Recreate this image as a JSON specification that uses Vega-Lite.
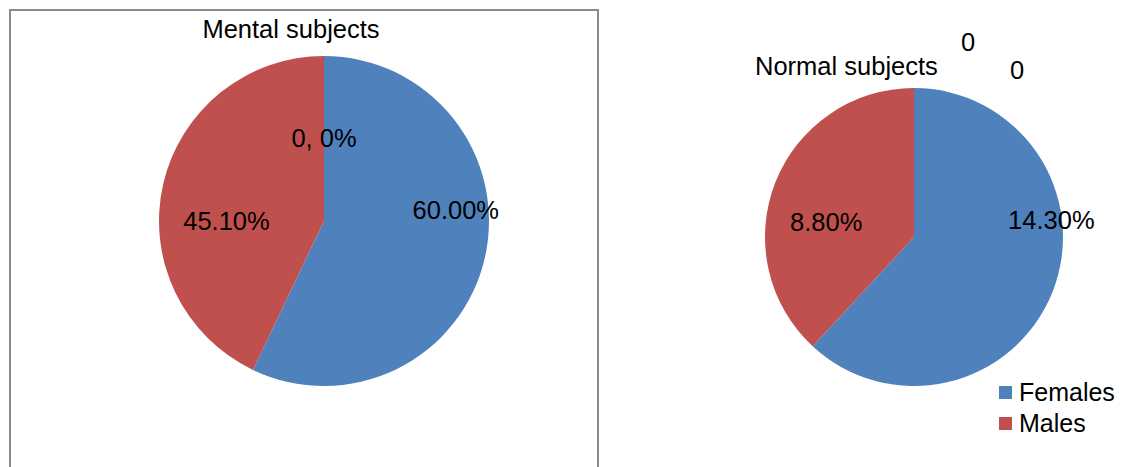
{
  "$schema": "https://vega.github.io/schema/vega-lite/v6.json",
  "padding": {"left": 9, "top": 9, "right": 0, "bottom": 0},
  "background": "white",
  "config": {
    "font": "Liberation Sans",
    "title": {"font": "Liberation Sans", "fontSize": 25.5, "fontWeight": "normal", "color": "#000000"},
    "text": {"font": "Liberation Sans", "fontSize": 25.5, "color": "#000000"}
  },
  "datasets": {
    "mental": [
      {"cat": "Zero", "value": 0, "label": "0, 0%", "idx": 0},
      {"cat": "Females", "value": 60, "label": "60.00%", "idx": 1},
      {"cat": "Males", "value": 45.1, "label": "45.10%", "idx": 2}
    ],
    "normal": [
      {"cat": "Females", "value": 14.3, "label": "14.30%", "idx": 1},
      {"cat": "Males", "value": 8.8, "label": "8.80%", "idx": 2},
      {"cat": "Zero1", "value": 0, "label": "0", "idx": 3},
      {"cat": "Zero2", "value": 0, "label": "0", "idx": 4}
    ]
  },
  "spacing": 100,
  "resolve": {"scale": {"theta": "independent", "color": "independent"}, "legend": {"color": "independent"}},
  "hconcat": [
    {
      "width": 588,
      "height": 470,
      "view": {"stroke": "#8a8a8a", "strokeWidth": 2},
      "title": {"text": "Mental subjects", "offset": -33, "anchor": "middle", "dx": -13},
      "data": {"name": "mental"},
      "encoding": {
        "theta": {"field": "value", "type": "quantitative", "stack": true},
        "order": {"field": "idx", "type": "quantitative"}
      },
      "layer": [
        {
          "mark": {"type": "arc", "outerRadius": 165, "xOffset": 20, "yOffset": -24},
          "encoding": {
            "color": {"field": "cat", "type": "nominal", "scale": {"domain": ["Females", "Males"], "range": ["#4F81BD", "#C0504D"]}, "legend": null}
          }
        },
        {
          "mark": {"type": "text", "radius": 82, "xOffset": 20, "yOffset": -24},
          "encoding": {"text": {"condition": {"test": "datum.cat === 'Zero'", "field": "label"}, "value": ""}}
        },
        {
          "mark": {"type": "text", "radius": 130, "xOffset": 20, "yOffset": -24, "dx": 5, "dy": -39},
          "encoding": {"text": {"condition": {"test": "datum.cat === 'Females'", "field": "label"}, "value": ""}}
        },
        {
          "mark": {"type": "text", "radius": 100, "xOffset": 20, "yOffset": -24, "dx": 0, "dy": 23},
          "encoding": {"text": {"condition": {"test": "datum.cat === 'Males'", "field": "label"}, "value": ""}}
        }
      ]
    },
    {
      "width": 430,
      "height": 454,
      "view": {"stroke": null},
      "title": {"text": "Normal subjects", "offset": -70, "anchor": "start", "dx": 56},
      "data": {"name": "normal"},
      "encoding": {
        "theta": {"field": "value", "type": "quantitative", "stack": true},
        "order": {"field": "idx", "type": "quantitative"}
      },
      "layer": [
        {
          "mark": {"type": "arc", "outerRadius": 149},
          "encoding": {
            "color": {
              "field": "cat", "type": "nominal",
              "scale": {"domain": ["Females", "Males"], "range": ["#4F81BD", "#C0504D"]},
              "legend": {"orient": "none", "legendX": 294, "legendY": 370, "title": null, "symbolType": "square", "symbolSize": 169, "symbolStrokeWidth": 0, "labelFontSize": 25, "labelFont": "Liberation Sans", "labelColor": "#000000", "rowPadding": 5, "labelOffset": 1}
            }
          }
        },
        {
          "mark": {"type": "text", "radius": 140, "dx": 7, "dy": -67},
          "encoding": {"text": {"condition": {"test": "datum.cat === 'Females'", "field": "label"}, "value": ""}}
        },
        {
          "mark": {"type": "text", "radius": 90, "dx": -4, "dy": 19},
          "encoding": {"text": {"condition": {"test": "datum.cat === 'Males'", "field": "label"}, "value": ""}}
        },
        {
          "mark": {"type": "text", "radius": 148, "dx": 54, "dy": -46},
          "encoding": {"text": {"condition": {"test": "datum.cat === 'Zero1'", "field": "label"}, "value": ""}}
        },
        {
          "mark": {"type": "text", "radius": 148, "dx": 103, "dy": -18},
          "encoding": {"text": {"condition": {"test": "datum.cat === 'Zero2'", "field": "label"}, "value": ""}}
        }
      ]
    }
  ]
}
